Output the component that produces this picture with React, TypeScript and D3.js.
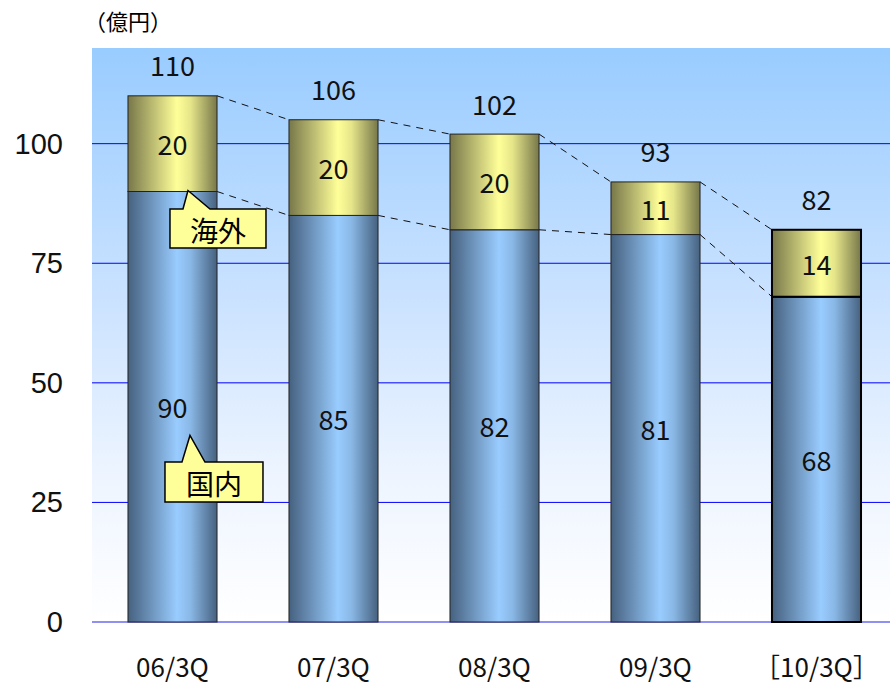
import * as d3 from 'd3';

// 億円
const CATEGORIES = ['06/3Q', '07/3Q', '08/3Q', '09/3Q', '［10/3Q］'];
const DOMESTIC = [90, 85, 82, 81, 68];
const OVERSEAS = [20, 20, 20, 11, 14];
const TOTAL_LABELS = ['110', '106', '102', '93', '82'];
const Y_TICKS = [0, 25, 50, 75, 100];

const W = 890;
const H = 682;
const PLOT = { left: 92, right: 897, top: 48, bottom: 622 };

const LABEL_FONT = '"Noto Sans CJK JP", "Noto Sans", sans-serif';
const TICK_FONT = '"Liberation Sans", Arial, sans-serif';

export default function App() {
  const x = d3.scaleBand<string>()
    .domain(CATEGORIES)
    .range([PLOT.left, PLOT.right])
    .paddingInner(0.447)
    .paddingOuter(0.2235);
  const y = d3.scaleLinear().domain([0, 120]).range([PLOT.bottom, PLOT.top]);
  const bw = x.bandwidth();
  const last = CATEGORIES.length - 1;

  // dashed connectors between neighbouring bars
  const connectors: { x1: number; y1: number; x2: number; y2: number }[] = [];
  for (let i = 0; i < last; i++) {
    const a = CATEGORIES[i], b = CATEGORIES[i + 1];
    const xa = (x(a) ?? 0) + bw, xb = x(b) ?? 0;
    connectors.push({ x1: xa, y1: y(DOMESTIC[i] + OVERSEAS[i]), x2: xb, y2: y(DOMESTIC[i + 1] + OVERSEAS[i + 1]) });
    connectors.push({ x1: xa, y1: y(DOMESTIC[i]), x2: xb, y2: y(DOMESTIC[i + 1]) });
  }

  const x0 = x(CATEGORIES[0]) ?? 0;

  return (
    <div style={{ position: 'absolute', left: 0, top: 0 }}>
      <svg width={W} height={H} style={{ display: 'block', background: 'white' }}>
        <defs>
          <linearGradient id="bg" x1="0" y1="0" x2="0" y2="1">
            <stop offset="0" stopColor="#99ccff" />
            <stop offset="0.45" stopColor="#cce3ff" />
            <stop offset="0.75" stopColor="#eef5ff" />
            <stop offset="1" stopColor="#ffffff" />
          </linearGradient>
          <linearGradient id="blueBar" x1="0" y1="0" x2="1" y2="0">
            <stop offset="0" stopColor="#46617f" />
            <stop offset="0.55" stopColor="#99ccff" />
            <stop offset="0.7" stopColor="#8ab8e6" />
            <stop offset="1" stopColor="#46617f" />
          </linearGradient>
          <linearGradient id="yellowBar" x1="0" y1="0" x2="1" y2="0">
            <stop offset="0" stopColor="#77774a" />
            <stop offset="0.55" stopColor="#ffff99" />
            <stop offset="0.7" stopColor="#e6e68a" />
            <stop offset="1" stopColor="#77774a" />
          </linearGradient>
        </defs>

        <text x={84} y={20} fontSize={22} fontFamily={LABEL_FONT} dominantBaseline="central">（億円）</text>

        {/* plot area */}
        <rect x={PLOT.left} y={PLOT.top} width={W - PLOT.left} height={PLOT.bottom - PLOT.top} fill="url(#bg)" />

        {/* grid + y ticks */}
        {Y_TICKS.map(t => (
          <g key={t}>
            <line x1={PLOT.left} x2={W} y1={y(t)} y2={y(t)} stroke={t === 0 ? '#6a6af0' : '#0000ff'} strokeWidth={t === 0 ? 1.5 : 1} />
            <text x={63} y={y(t)} textAnchor="end" dominantBaseline="central" fontSize={29} fontFamily={TICK_FONT} fill="#111">{t}</text>
          </g>
        ))}

        {/* connectors */}
        {connectors.map((c, i) => (
          <line key={i} x1={c.x1} y1={c.y1} x2={c.x2} y2={c.y2} stroke="#111" strokeWidth={1} strokeDasharray="7,6" />
        ))}

        {/* bars */}
        {CATEGORIES.map((c, i) => {
          const bx = x(c) ?? 0;
          const yD = y(DOMESTIC[i]);
          const yT = y(DOMESTIC[i] + OVERSEAS[i]);
          const sw = i === last ? 2 : 1;
          const sc = i === last ? '#000' : '#222';
          return (
            <g key={c}>
              <rect x={bx} y={yD} width={bw} height={y(0) - yD} fill="url(#blueBar)" stroke={sc} strokeWidth={sw} />
              <rect x={bx} y={yT} width={bw} height={yD - yT} fill="url(#yellowBar)" stroke={sc} strokeWidth={sw} />
              <text x={bx + bw / 2} y={(yD + y(0)) / 2} textAnchor="middle" dominantBaseline="central" fontSize={27} fontFamily={LABEL_FONT} fill="#111">{DOMESTIC[i]}</text>
              <text x={bx + bw / 2} y={(yD + yT) / 2} textAnchor="middle" dominantBaseline="central" fontSize={27} fontFamily={LABEL_FONT} fill="#111">{OVERSEAS[i]}</text>
              <text x={bx + bw / 2} y={yT - 31} textAnchor="middle" dominantBaseline="central" fontSize={27} fontFamily={LABEL_FONT} fill="#111">{TOTAL_LABELS[i]}</text>
              <text x={bx + bw / 2} y={665} textAnchor="middle" dominantBaseline="central" fontSize={26} fontFamily={LABEL_FONT} fill="#111">{c}</text>
            </g>
          );
        })}

        {/* callouts */}
        <Callout box={[x0 + 42, 209, 96, 39]} tip={[x0 + 60, y(DOMESTIC[0]) - 1]} base={[x0 + 55, x0 + 82]} label="海外" />
        <Callout box={[x0 + 37, 462, 98, 40]} tip={[x0 + 62, y(39)]} base={[x0 + 54, x0 + 77]} label="国内" />
      </svg>
    </div>
  );
}

function Callout({ box, tip, base, label }: { box: number[]; tip: number[]; base: number[]; label: string }) {
  const [bx, by, bw, bh] = box;
  const path = `M${bx},${by} L${base[0]},${by} L${tip[0]},${tip[1]} L${base[1]},${by} L${bx + bw},${by} L${bx + bw},${by + bh} L${bx},${by + bh} Z`;
  return (
    <g>
      <path d={path} fill="#ffff99" stroke="#000" strokeWidth={1.5} strokeLinejoin="miter" />
      <text x={bx + bw / 2} y={by + bh / 2 + 1} textAnchor="middle" dominantBaseline="central" fontSize={28} fontFamily={LABEL_FONT} fill="#000">{label}</text>
    </g>
  );
}
